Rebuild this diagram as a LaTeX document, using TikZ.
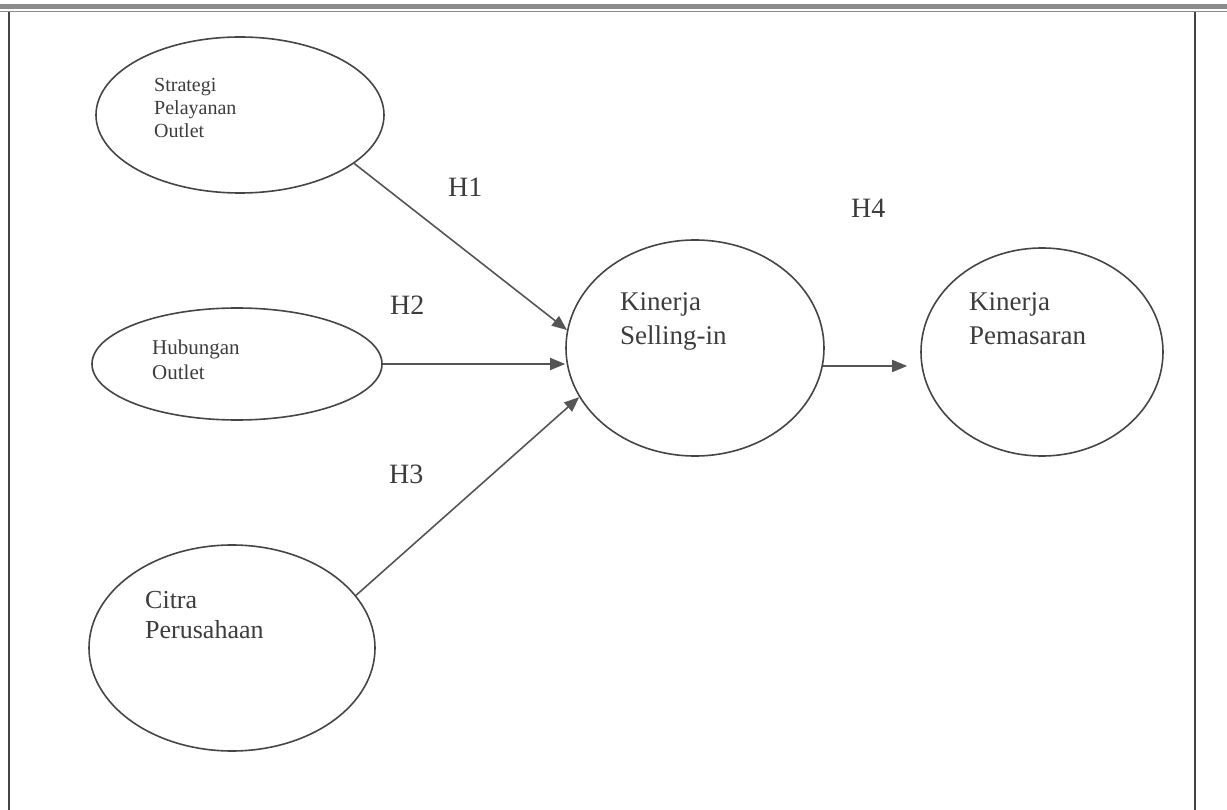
\documentclass[tikz,border=0pt]{standalone}
\usepackage{fontspec}
\setmainfont{Liberation Serif}
\usetikzlibrary{calc,positioning,shapes.geometric,arrows.meta}
\definecolor{color_line}{HTML}{454545}
\definecolor{color_arrow}{HTML}{555555}
\definecolor{color_text}{HTML}{3c3c3c}
\definecolor{color_frame}{HTML}{8c8c8c}

\tikzset{
	construct/.style={ellipse,draw=color_line,line width=1.6pt,inner sep=0pt},
	construct_text/.style={anchor=base west,align=left,text=color_text,inner sep=0pt},
	hypo/.style={-{Triangle[length=15pt,width=12pt]},draw=color_arrow,line width=1.6pt},
	hypo_label/.style={anchor=base west,text=color_text,inner sep=0pt,font=\fontsize{28}{32}\selectfont},
}

\begin{document}
\begin{tikzpicture}[x=1pt,y=-1pt]
				\useasboundingbox (0, 0) rectangle (1227, 810);
				% Frame
				\draw[line width=5pt, color_frame] (0, 7) -- (1227, 7);
				\draw[line width=1pt, color_frame] (0, 12) -- (1227, 12);
				\draw[line width=1.3pt, color_line] (9, 12) -- (9, 810);
				\draw[line width=1.3pt, color_line] (1195, 12) -- (1195, 810);
				
				% Constructs
				\node[construct, minimum width=288pt, minimum height=156pt] (str) at (240, 115) {};
				\node[construct, minimum width=290pt, minimum height=112pt] (hub) at (237, 364) {};
				\node[construct, minimum width=286pt, minimum height=206pt] (cit) at (232, 648) {};
				\node[construct, minimum width=258pt, minimum height=216pt] (kin) at (695, 348) {};
				\node[construct, minimum width=242pt, minimum height=208pt] (pem) at (1042, 352) {};
				
				% Texts (base = last line)
				\node[construct_text, font=\fontsize{20}{23}\selectfont] (str_txt)
					at ($(str.center) + (-86, 23)$) {Strategi\\Pelayanan\\Outlet};
				\node[construct_text, font=\fontsize{21}{25}\selectfont] (hub_txt)
					at ($(hub.center) + (-85, 16)$) {Hubungan\\Outlet};
				\node[construct_text, font=\fontsize{26}{30}\selectfont] (cit_txt)
					at ($(cit.center) + (-87, -10)$) {Citra\\Perusahaan};
				\node[construct_text, font=\fontsize{27}{34}\selectfont] (kin_txt)
					at ($(kin.center) + (-75, -3)$) {Kinerja\\Selling-in};
				\node[construct_text, font=\fontsize{27}{34}\selectfont] (pem_txt)
					at ($(pem.center) + (-73, -7)$) {Kinerja\\Pemasaran};
				
				% Hypotheses
				\draw[hypo] (str.-23) -- (kin.172);
				\draw[hypo] (hub.east) -- (hub.east -| kin.west);
				\draw[hypo] (cit.23) -- (kin.-157);
				\draw[hypo, shorten >=13pt] (kin.-8) -- (kin.-8 -| pem.west);
				
				\node[hypo_label] (h1) at (448, 197) {H1};
				\node[hypo_label] (h2) at (390, 315) {H2};
				\node[hypo_label] (h3) at (389, 483) {H3};
				\node[hypo_label] (h4) at (851, 218) {H4};
\end{tikzpicture}
\end{document}
